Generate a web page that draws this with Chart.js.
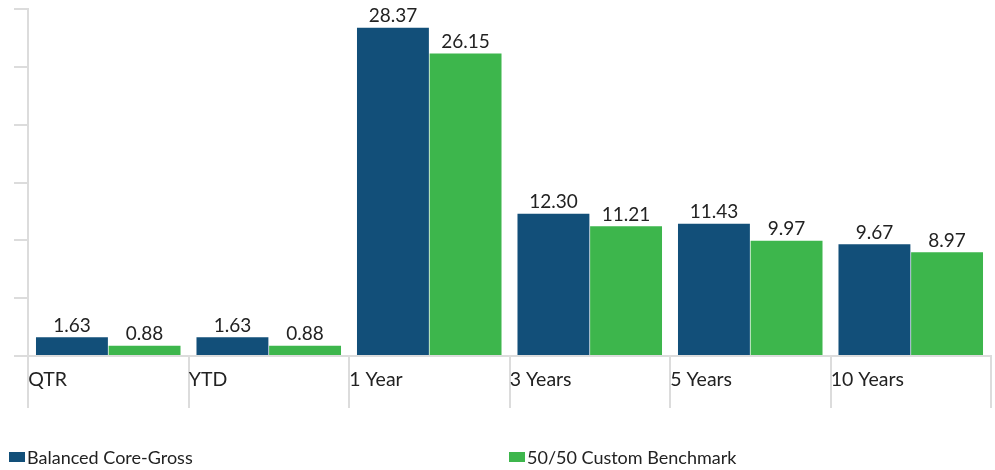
<!DOCTYPE html>
<html>
<head>
<meta charset="utf-8">
<script src="https://cdn.jsdelivr.net/npm/chart.js@4.4.1/dist/chart.umd.min.js"></script>
<style>
  html, body { margin: 0; padding: 0; background: #fff; overflow: hidden; }
  #wrap { position: relative; width: 995px; height: 470px; }
  #legend {
    position: absolute; left: 9px; top: 446px; width: 986px;
    display: flex; font-family: Lato, sans-serif; font-size: 18px; color: #222;
  }
  .item { width: 500px; flex-shrink: 0; display: flex; align-items: center; }
  .box { width: 16px; height: 10px; margin-right: 2px; }
</style>
</head>
<body>
<div id="wrap">
  <canvas id="chart1" width="995" height="470"></canvas>
  <div id="legend"></div>
</div>
<script>
const categories = ["QTR", "YTD", "1 Year", "3 Years", "5 Years", "10 Years"];
const seriesNames = ["Balanced Core-Gross", "50/50 Custom Benchmark"];
const coreGross = [1.63, 1.63, 28.37, 12.30, 11.43, 9.67];
const benchmark = [0.88, 0.88, 26.15, 11.21, 9.97, 8.97];
const colors = ["#124f79", "#3db64c"];

const gridColor = "#dcdcdc";

// value labels above each bar
const valueLabels = {
  id: "valueLabels",
  afterDatasetsDraw(chart) {
    const ctx = chart.ctx;
    ctx.save();
    ctx.font = "19px Lato, sans-serif";
    ctx.fillStyle = "#222";
    ctx.textAlign = "center";
    ctx.textBaseline = "bottom";
    chart.data.datasets.forEach((ds, i) => {
      chart.getDatasetMeta(i).data.forEach((bar, j) => {
        ctx.fillText(ds.data[j].toFixed(2), bar.x, bar.y - 2);
      });
    });
    ctx.restore();
  },
};

new Chart(document.getElementById("chart1").getContext("2d"), {
  type: "bar",
  data: {
    labels: categories,
    datasets: [
      { label: seriesNames[0], data: coreGross, backgroundColor: colors[0] },
      { label: seriesNames[1], data: benchmark, backgroundColor: colors[1] },
    ],
  },
  options: {
    responsive: false,
    animation: false,
    events: [],
    datasets: { bar: { barPercentage: 0.99, categoryPercentage: 0.905 } },
    layout: { padding: { top: 9, right: 4, bottom: 62, left: 0 } },
    plugins: { legend: { display: false }, tooltip: { enabled: false } },
    scales: {
      x: {
        grid: {
          offset: true,
          drawOnChartArea: false,
          drawTicks: true,
          tickLength: 52,
          color: gridColor,
          lineWidth: 2,
        },
        border: { display: true, color: gridColor, width: 2 },
        ticks: {
          align: "start",
          labelOffset: -80,
          padding: -40,
          color: "#222",
          font: { family: "Lato, sans-serif", size: 19.5 },
          maxRotation: 0,
        },
        afterFit: (s) => { s.height = 52; },
      },
      y: {
        min: 0,
        max: 30,
        ticks: { stepSize: 5, display: false },
        grid: {
          drawOnChartArea: false,
          drawTicks: true,
          tickLength: 14,
          color: gridColor,
          lineWidth: 2,
        },
        border: { display: true, color: gridColor, width: 2 },
        afterFit: (s) => { s.width = 28; },
      },
    },
  },
  plugins: [valueLabels],
});

// legend
const legend = document.getElementById("legend");
seriesNames.forEach((name, i) => {
  const item = document.createElement("div");
  item.className = "item";
  item.innerHTML = `<span class="box" style="background:${colors[i]}"></span><span>${name}</span>`;
  legend.appendChild(item);
});
</script>
</body>
</html>
